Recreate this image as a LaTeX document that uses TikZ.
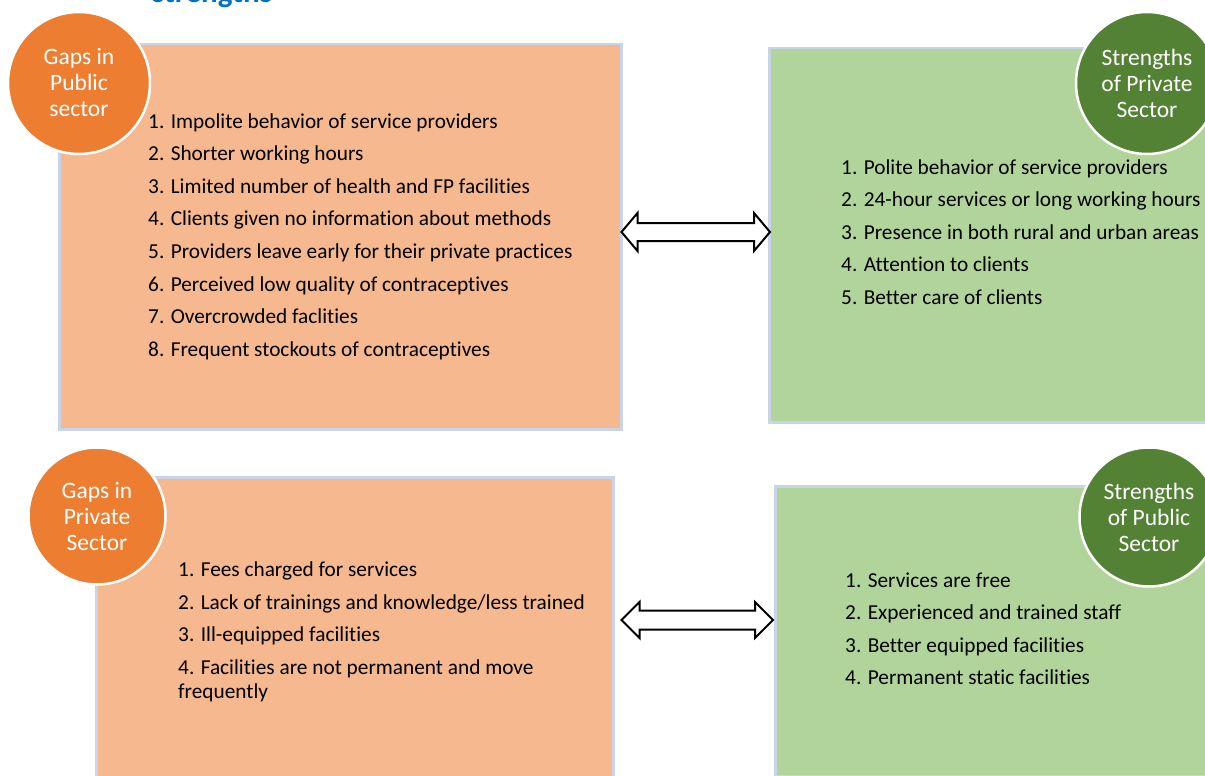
\documentclass[tikz,border=0pt]{standalone}
\usepackage{fontspec}
\setmainfont{Carlito}[Ligatures=CommonOff]
\usetikzlibrary{calc}
\definecolor{boxor}{HTML}{F5B88F}
\definecolor{boxgr}{HTML}{B1D49A}
\definecolor{circor}{HTML}{ED7D31}
\definecolor{circgr}{HTML}{548235}
\definecolor{bord}{HTML}{C8D4E8}
\definecolor{titleblue}{HTML}{0070C0}
\tikzset{
  obox/.style={draw=bord, line width=2.5pt, fill=boxor, rectangle, inner sep=0pt, anchor=north west},
  gbox/.style={draw=bord, line width=2.5pt, fill=boxgr, rectangle, inner sep=0pt, anchor=north west},
  ocirc/.style={circle, fill=circor, draw=white, line width=2.5pt, inner sep=0pt, text=white, align=center, font=\fontsize{23.5}{26}\selectfont},
  gcirc/.style={circle, fill=circgr, draw=white, line width=2.5pt, inner sep=0pt, text=white, align=center, font=\fontsize{23.5}{26}\selectfont},
  item/.style={anchor=base west, inner sep=0pt, font=\fontsize{21.3}{25}\selectfont},
  dblarrow/.style={draw=black, fill=white, line width=2pt, line join=miter}
}
\begin{document}
\begin{tikzpicture}[x=1pt,y=-1pt]
\useasboundingbox (0,0) rectangle (1205,776);
% title (cut off)
\node[anchor=base west, inner sep=0pt, text=titleblue, font=\bfseries\fontsize{31}{31}\selectfont] (title) at (152,3) {strengths};
% boxes
\node[obox, minimum width=562pt, minimum height=385pt] (tlb) at (58,43) {};
\node[gbox, minimum width=450pt, minimum height=374pt] (trb) at (768,47) {};
\node[obox, minimum width=517pt, minimum height=320pt] (blb) at (95,476) {};
\node[gbox, minimum width=450pt, minimum height=290pt] (brb) at (774,485) {};
% circles
\node[ocirc, minimum size=142pt] (tlc) at (79,83) {Gaps in\\Public\\sector};
\node[gcirc, minimum size=142pt] (trc) at (1147,83) {Strengths\\of Private\\Sector};
\node[ocirc, minimum size=137pt] (blc) at (97,516) {Gaps in\\Private\\Sector};
\node[gcirc, minimum size=139pt] (brc) at (1149,517) {Strengths\\of Public\\Sector};
% top-left list
\node[item] (tl1) at (148,128.0) {1. Impolite behavior of service providers};
\node[item] (tl2) at (148,160.6) {2. Shorter working hours};
\node[item] (tl3) at (148,193.2) {3. Limited number of health and FP facilities};
\node[item] (tl4) at (148,225.8) {4. Clients given no information about methods};
\node[item] (tl5) at (148,258.4) {5. Providers leave early for their private practices};
\node[item] (tl6) at (148,291.0) {6. Perceived low quality of contraceptives};
\node[item] (tl7) at (148,323.6) {7. Overcrowded faclities};
\node[item] (tl8) at (148,356.2) {8. Frequent stockouts of contraceptives};
% top-right list
\node[item] (tr1) at (841,174.0) {1. Polite behavior of service providers};
\node[item] (tr2) at (841,206.6) {2. 24-hour services or long working hours};
\node[item] (tr3) at (841,239.2) {3. Presence in both rural and urban areas};
\node[item] (tr4) at (841,271.8) {4. Attention to clients};
\node[item] (tr5) at (841,304.4) {5. Better care of clients};
% bottom-left list
\node[item] (bl1) at (178,576) {1. Fees charged for services};
\node[item] (bl2) at (178,609) {2. Lack of trainings and knowledge/less trained};
\node[item] (bl3) at (178,641) {3. Ill-equipped facilities};
\node[item] (bl4) at (178,674) {4. Facilities are not permanent and move};
\node[item] (bl5) at (178,698) {frequently};
% bottom-right list
\node[item] (br1) at (845,587) {1. Services are free};
\node[item] (br2) at (845,619.5) {2. Experienced and trained staff};
\node[item] (br3) at (845,652) {3. Better equipped facilities};
\node[item] (br4) at (845,684.5) {4. Permanent static facilities};
% double arrows
\coordinate (a1l) at ($(tlb.east |- 0,232)+(-1,0)$);
\coordinate (a1r) at ($(trb.west |- 0,232)+(2,0)$);
\draw[dblarrow] (a1l) -- ++(16,-19) -- ++(0,10) -- ($(a1r)+(-16,-9)$) -- ++(0,-10) -- (a1r)
  -- ++(-16,19) -- ++(0,-10) -- ($(a1l)+(16,9)$) -- ++(0,10) -- cycle;
\coordinate (a2l) at ($(blb.east |- 0,620)+(7,0)$);
\coordinate (a2r) at ($(brb.west |- 0,620)+(-1,0)$);
\draw[dblarrow] (a2l) -- ++(18,-18) -- ++(0,8.5) -- ($(a2r)+(-18,-9.5)$) -- ++(0,-8.5) -- (a2r)
  -- ++(-18,18) -- ++(0,-8.5) -- ($(a2l)+(18,9.5)$) -- ++(0,8.5) -- cycle;
\end{tikzpicture}
\end{document}
